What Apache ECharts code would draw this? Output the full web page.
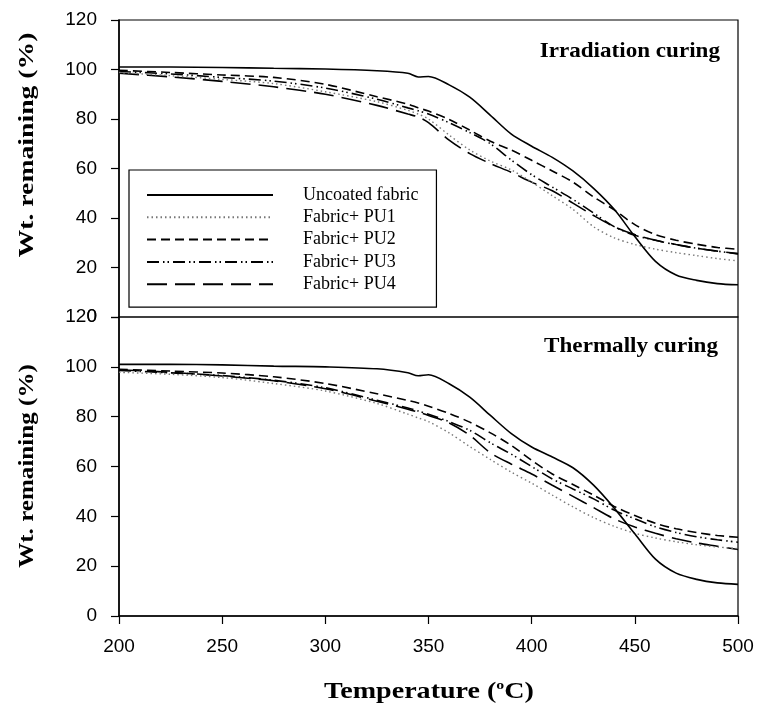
<!DOCTYPE html>
<html>
<head>
<meta charset="utf-8">
<script src="https://cdn.jsdelivr.net/npm/echarts@6/dist/echarts.min.js"></script>
<style>html,body{margin:0;padding:0;background:#fff}#c{width:760px;height:704px}</style>
</head>
<body>
<div id="c"></div>
<script>
// Temperature (°C)
const temps = [200,225,250,275,300,325,340,345,350,360,370,380,390,400,410,420,430,440,450,460,470,480,490,500];
const seriesNames = ['Uncoated fabric','Fabric+ PU1','Fabric+ PU2','Fabric+ PU3','Fabric+ PU4'];
const xTicks = [200,250,300,350,400,450,500];
const yTicks = [0,20,40,60,80,100,120];
const panelTitles = ['Irradiation curing','Thermally curing'];

// Top panel: Irradiation curing (Wt. remaining %)
const irrUncoated = [101,101,100.8,100.5,100.2,99.5,98.5,97,97.2,93.8,88.8,81.5,74,69,64.5,59,52,43.5,32.5,22.5,17,14.8,13.5,13];
const irrPU1 = [98.8,97.5,96,94.3,91,87,83.5,82,80,73.5,67.5,63,59.5,54.5,49,43.5,36.5,32,29.3,27.4,26,24.8,23.6,22.7];
const irrPU2 = [99.7,98.8,97.8,96.8,94,89,86,84.5,83.2,79.8,75.5,71,67.5,63.3,59,54.5,48.5,43.3,37.3,33.3,31,29.4,28.1,27.4];
const irrPU3 = [99.2,98.2,96.8,95.3,92.5,88,84.5,83.3,82,78.5,74.5,70,63.5,57.5,52.5,47.5,42,36.5,33,31,29.2,27.8,26.6,25.5];
const irrPU4 = [98.5,97,95.2,93,90,85.5,82,80.8,78.5,71.5,66,62,58.5,54.5,51,46,41,36.5,33.3,31,29.3,27.8,26.6,25.6];

// Bottom panel: Thermally curing (Wt. remaining %)
const thUncoated = [101,101,100.8,100.3,100,99.2,97.6,96.4,96.8,93.2,87.8,80.5,73.3,67.8,63.8,59.5,52.5,43.3,33,22.8,17.2,14.7,13.3,12.7];
const thPU1 = [97.8,97,95.7,93.3,90.3,85.3,81,79.5,78,73.5,68,62.8,57.8,53.3,48.5,43.8,39.5,36,33.2,31.3,29.8,28.6,27.7,27];
const thPU2 = [99,98.3,97.5,96,93.3,89.2,86.5,85.5,84.2,81.3,77.8,73.5,68.5,62.5,57,52.8,48.5,44,40.3,37.2,35,33.5,32.3,31.6];
const thPU3 = [98.5,97.6,96.5,94.6,91.6,86.6,83.5,82.3,81,78,74.5,69.5,65,60,55,51,47,42.5,39,35.8,33.5,31.8,30.6,29.6];
const thPU4 = [98.8,97.8,96.3,94.4,91.2,86.2,83,81.8,80.5,77.5,72.5,65.5,61,57,52.5,48,43.5,39,35.7,33.2,31,29.3,28,26.7];

const styles = [
  {color:'#000', width:1.6, type:'solid'},
  {color:'#777', width:1.4, type:[1.5,3]},
  {color:'#000', width:1.6, type:[9,5]},
  {color:'#000', width:1.6, type:[12,4,1.5,3,1.5,4]},
  {color:'#000', width:1.6, type:[20,8]}
];

const topData = [irrUncoated, irrPU1, irrPU2, irrPU3, irrPU4];
const botData = [thUncoated, thPU1, thPU2, thPU3, thPU4];
const pairs = arr => temps.map((t,i)=>[t, arr[i]]);

const series = [];
[topData, botData].forEach((set, gi) => {
  set.forEach((arr, si) => {
    series.push({
      name: seriesNames[si], type:'line', xAxisIndex: gi, yAxisIndex: gi,
      data: pairs(arr), smooth: 0.3, symbol:'none', showSymbol:false,
      lineStyle: Object.assign({}, styles[si]), itemStyle:{color: styles[si].color},
      z: 5 - si, animation:false
    });
  });
});

const labelFont = {fontFamily:'"Liberation Sans", Arial, sans-serif', fontSize:19, color:'#000'};
const serif = '"Liberation Serif","Times New Roman",serif';

function yAx(gi){
  return {
    type:'value', gridIndex: gi, min: yTicks[0], max: yTicks[yTicks.length-1], interval: 20,
    axisLine:{show:true, lineStyle:{color:'#000', width:1.5}},
    axisTick:{show:true, inside:false, length:8, lineStyle:{color:'#000', width:1.2}},
    axisLabel:Object.assign({margin:22}, labelFont),
    splitLine:{show:false}
  };
}

const option = {
  backgroundColor:'#fff',
  animation:false,
  grid:[
    {left:119, top:20, width:619, height:297, show:true, borderColor:'#000', borderWidth:1.2, backgroundColor:'transparent'},
    {left:119, top:317, width:619, height:299, show:true, borderColor:'#000', borderWidth:1.2, backgroundColor:'transparent'}
  ],
  xAxis:[
    {type:'value', gridIndex:0, min:200, max:500, interval:50, show:false},
    {type:'value', gridIndex:1, min:200, max:500, interval:50,
     axisLine:{show:true, lineStyle:{color:'#000', width:1.5}},
     axisTick:{show:true, inside:false, length:8, lineStyle:{color:'#000', width:1.2}},
     axisLabel:Object.assign({margin:21}, labelFont),
     splitLine:{show:false}}
  ],
  yAxis:[yAx(0), yAx(1)],
  legend:{
    data: seriesNames, orient:'vertical', left:129, top:170,
    itemWidth:126, itemHeight:18, itemGap:4.3,
    padding:[16,18,14,17], borderColor:'#000', borderWidth:1.2, backgroundColor:'#fff',
    selectedMode:false,
    itemStyle:{opacity:0, color:'rgba(0,0,0,0)', borderWidth:0},
    textStyle:{fontFamily:serif, fontSize:18, color:'#000', padding:[0,0,0,25]}
  },
  graphic:[
    {type:'text', x:720, y:52, style:{text:panelTitles[0], font:'bold 21px '+serif, fill:'#000', textAlign:'right', textVerticalAlign:'middle'}, scaleX:1.1},
    {type:'text', x:718, y:347, style:{text:panelTitles[1], font:'bold 21px '+serif, fill:'#000', textAlign:'right', textVerticalAlign:'middle'}, scaleX:1.1},
    {type:'text', x:27, y:145, rotation:Math.PI/2, scaleX:1.26,
     style:{text:'Wt. remaining (%)', font:'bold 22px '+serif, fill:'#000', textAlign:'center', textVerticalAlign:'middle'}},
    {type:'text', x:27, y:466, rotation:Math.PI/2, scaleX:1.14,
     style:{text:'Wt. remaining (%)', font:'bold 22px '+serif, fill:'#000', textAlign:'center', textVerticalAlign:'middle'}},
    {type:'text', x:429, y:692, scaleX:1.22,
     style:{text:'{a|Temperature (}{s|o}{a|C)}', textAlign:'center', textVerticalAlign:'middle',
       rich:{a:{fontFamily:serif, fontWeight:'bold', fontSize:23, color:'#000', lineHeight:26},
             s:{fontFamily:serif, fontWeight:'bold', fontSize:13, color:'#000', verticalAlign:'top', lineHeight:26, padding:[0,0,10,0]}}}}
  ],
  series: series
};

const chart = echarts.init(document.getElementById('c'), null, {renderer:'canvas'});
chart.setOption(option);
</script>
</body>
</html>
